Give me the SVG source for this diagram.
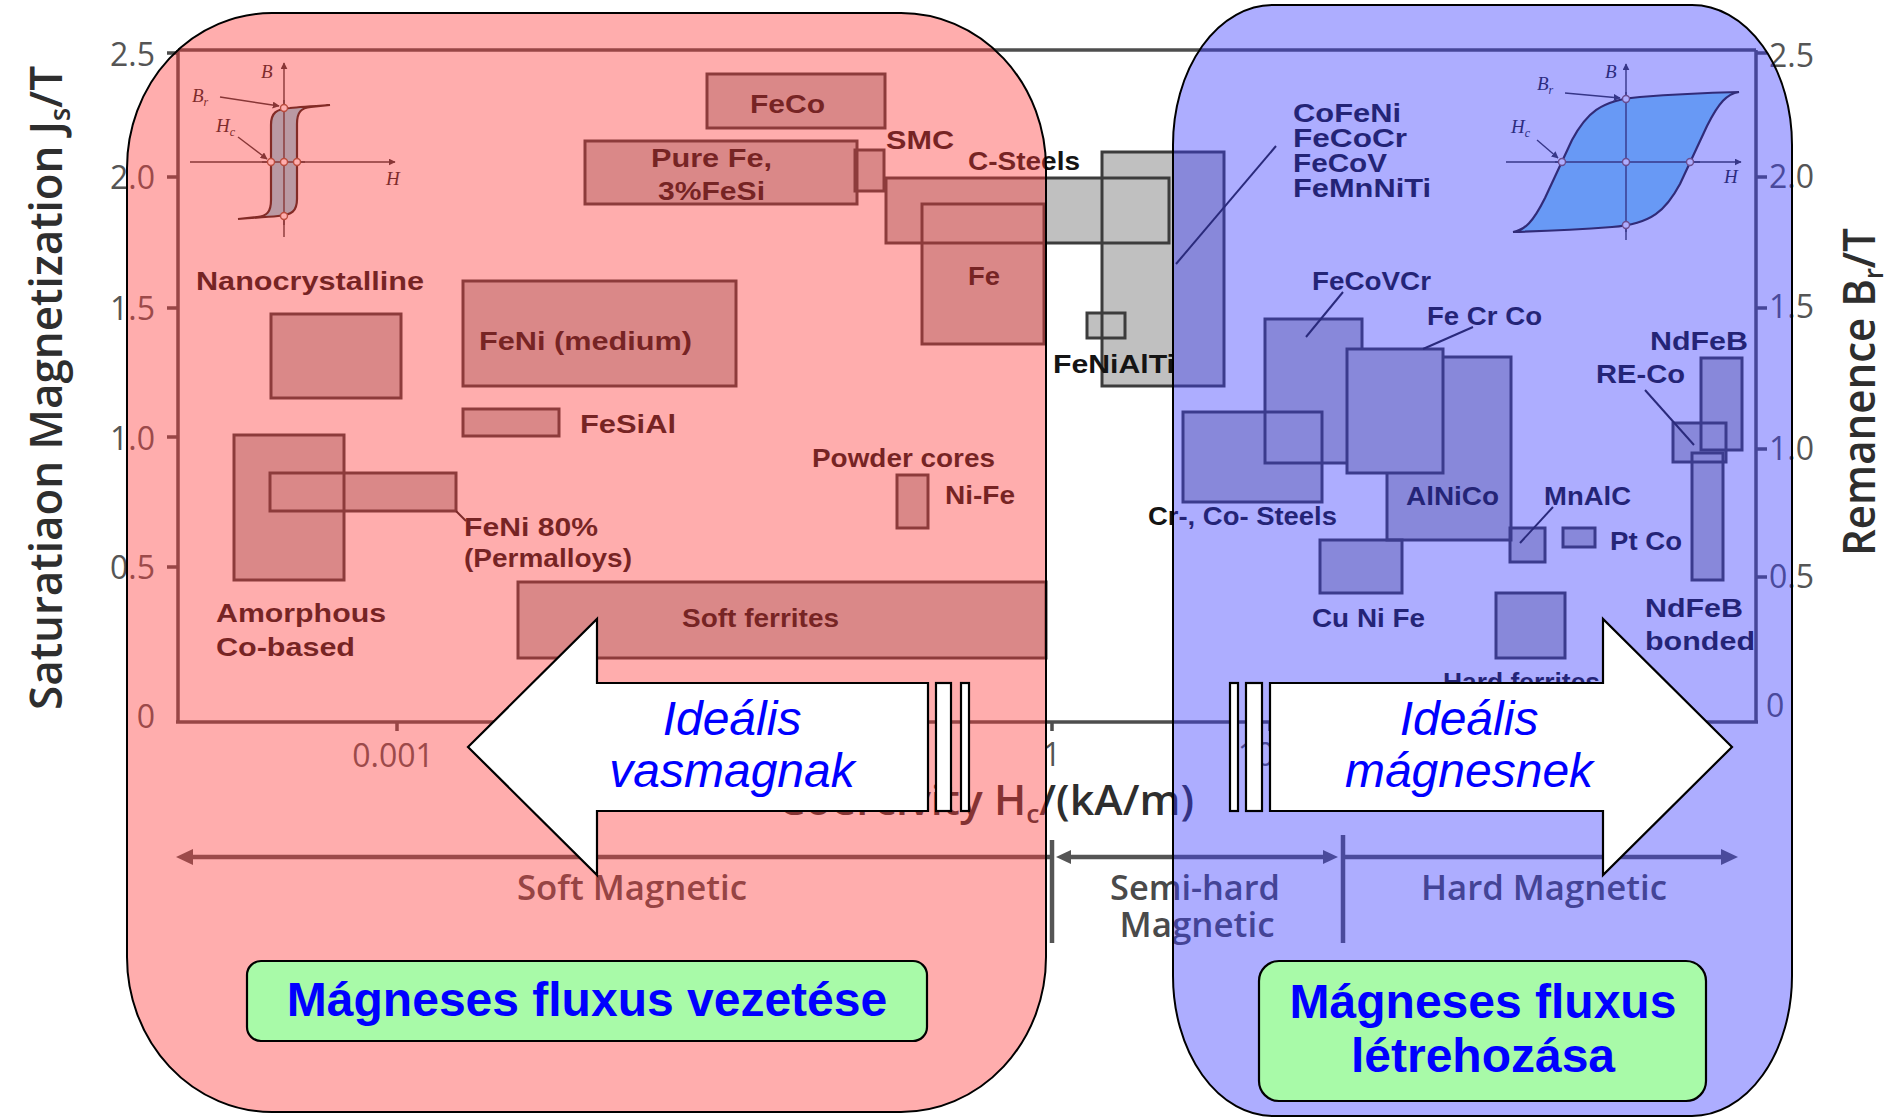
<svg xmlns="http://www.w3.org/2000/svg" width="1886" height="1117" viewBox="0 0 1886 1117">
<style>
.bg{fill:#ffffff}
.box{fill:#c0c0c0;stroke:none}
.edge{fill:none;stroke:#3c3c3c;stroke-width:3}
.boxo{fill:#c0c0c0;stroke:#3c3c3c;stroke-width:3}
.lbl{font-family:"Liberation Sans",Arial,sans-serif;font-weight:bold;font-size:25px;fill:#141414}
.tick{font-family:"Open Sans","Liberation Sans",sans-serif;font-size:32px;fill:#555555}
.axis{stroke:#4e4e4e;stroke-width:3.5;fill:none}
.ttl{font-family:"Open Sans","Liberation Sans",sans-serif;font-weight:600;fill:#2e2e2e}
.rng{font-family:"Open Sans","Liberation Sans",sans-serif;font-weight:600;font-size:35px;fill:#4a4a4a}
.rline{stroke:#555555;stroke-width:4.5;fill:none}
.rhead{fill:#555555}
.leader{stroke:#1e1e1e;stroke-width:2;fill:none}
.ins{font-family:"Liberation Serif","Times New Roman",serif;font-style:italic;font-size:19px;fill:#222222}
.iax{stroke:#333333;stroke-width:1.4;fill:none}
.loop{fill:#88ddee;stroke:#2a2018;stroke-width:2.2}
.pt{fill:#ffffff;stroke:#8a5a40;stroke-width:1.4}
.ov{stroke:#000000;stroke-width:2}
.arrow{fill:#ffffff;stroke:#000000;stroke-width:2.2}
.atxt{font-family:"Liberation Sans",Arial,sans-serif;font-style:italic;font-size:48px;fill:#0000ff;text-anchor:middle}
.gbox{fill:#a8faa8;stroke:#000000;stroke-width:2.2}
.gtxt{font-family:"Liberation Sans",Arial,sans-serif;font-weight:bold;font-size:48px;fill:#0000ff;text-anchor:middle}
</style>
<defs>
<marker id="ah" viewBox="0 0 10 10" refX="9" refY="5" markerWidth="7" markerHeight="7" orient="auto-start-reverse" markerUnits="userSpaceOnUse">
<path d="M0,0 L10,5 L0,10 z" fill="#333333"/>
</marker>
</defs>
<rect class="bg" x="0" y="0" width="1886" height="1117"/>

<g id="chart">
  <g id="axes">
    <line class="axis" x1="178" y1="50" x2="1756" y2="50"/>
    <line class="axis" x1="178" y1="50" x2="178" y2="722"/>
    <line class="axis" x1="1756" y1="50" x2="1756" y2="722"/>
    <line class="axis" x1="176" y1="722" x2="1758" y2="722"/>
    <path class="axis" d="M167,53 H178 M167,177 H178 M167,308 H178 M167,437 H178 M167,567 H178"/>
    <path class="axis" d="M1756,53 H1767 M1756,177 H1767 M1756,308 H1767 M1756,449 H1767 M1756,577 H1767"/>
    <path class="axis" d="M397,722 V731 M615,722 V731 M832,722 V731 M1052,722 V731 M1270,722 V731 M1488,722 V731 M1705,722 V731"/>
    <text class="tick" x="155" y="66" text-anchor="end">2.5</text>
    <text class="tick" x="155" y="189" text-anchor="end">2.0</text>
    <text class="tick" x="155" y="320" text-anchor="end">1.5</text>
    <text class="tick" x="155" y="450" text-anchor="end">1.0</text>
    <text class="tick" x="155" y="579" text-anchor="end">0.5</text>
    <text class="tick" x="155" y="728" text-anchor="end">0</text>
    <text class="tick" x="1769" y="67">2.5</text>
    <text class="tick" x="1769" y="188">2.0</text>
    <text class="tick" x="1769" y="318">1.5</text>
    <text class="tick" x="1769" y="460">1.0</text>
    <text class="tick" x="1769" y="588">0.5</text>
    <text class="tick" x="1766" y="717">0</text>
    <text class="tick" x="393" y="767" text-anchor="middle">0.001</text>
    <text class="tick" x="1052" y="766" text-anchor="middle">1</text>
    <text class="tick" x="1256" y="766" text-anchor="middle">10</text>
    <text class="ttl" transform="translate(62,388) rotate(-90)" text-anchor="middle" font-size="46" textLength="644" lengthAdjust="spacingAndGlyphs">Saturatiaon Magnetization J<tspan font-size="28" dy="8">s</tspan><tspan dy="-8">/T</tspan></text>
    <text class="ttl" transform="translate(1875,392) rotate(-90)" text-anchor="middle" font-size="45" textLength="328" lengthAdjust="spacingAndGlyphs">Remanence B<tspan font-size="27" dy="8">r</tspan><tspan dy="-8">/T</tspan></text>
    <text class="ttl" x="778" y="815" font-size="42" textLength="416" lengthAdjust="spacingAndGlyphs">Coercivity H<tspan font-size="26" dy="8">c</tspan><tspan dy="-8">/(kA/m)</tspan></text>
  </g>

  <g id="ranges">
    <line class="rline" x1="188" y1="857" x2="1050" y2="857"/>
    <line class="rline" x1="1066" y1="857" x2="1326" y2="857"/>
    <line class="rline" x1="1345" y1="857" x2="1724" y2="857"/>
    <polygon class="rhead" points="176,857 193,849 193,865"/>
    <polygon class="rhead" points="1056,857 1071,850 1071,864"/>
    <polygon class="rhead" points="1338,857 1323,850 1323,864"/>
    <polygon class="rhead" points="1738,857 1721,849 1721,865"/>
    <line class="rline" x1="1052" y1="840" x2="1052" y2="943"/>
    <line class="rline" x1="1343" y1="835" x2="1343" y2="943"/>
    <text class="rng" x="632" y="900" text-anchor="middle" textLength="230" lengthAdjust="spacingAndGlyphs">Soft Magnetic</text>
    <text class="rng" x="1195" y="900" text-anchor="middle" textLength="170" lengthAdjust="spacingAndGlyphs">Semi-hard</text>
    <text class="rng" x="1197" y="937" text-anchor="middle" textLength="155" lengthAdjust="spacingAndGlyphs">Magnetic</text>
    <text class="rng" x="1544" y="900" text-anchor="middle" textLength="246" lengthAdjust="spacingAndGlyphs">Hard Magnetic</text>
  </g>

  <g id="box-fills">
    <rect class="box" x="707" y="74" width="178" height="54"/>
    <rect class="box" x="585" y="141" width="272" height="63"/>
    <rect class="box" x="855" y="150" width="29" height="41"/>
    <rect class="box" x="886" y="178" width="283" height="65"/>
    <rect class="box" x="922" y="204" width="122" height="140"/>
    <rect class="box" x="1102" y="152" width="122" height="234"/>
    <rect class="box" x="1087" y="313" width="38" height="25"/>
    <rect class="box" x="271" y="314" width="130" height="84"/>
    <rect class="box" x="463" y="281" width="273" height="105"/>
    <rect class="box" x="463" y="409" width="96" height="27"/>
    <rect class="box" x="234" y="435" width="110" height="145"/>
    <rect class="box" x="270" y="473" width="186" height="38"/>
    <rect class="box" x="518" y="582" width="528" height="76"/>
    <rect class="box" x="897" y="475" width="31" height="53"/>
    <rect class="box" x="1265" y="319" width="97" height="144"/>
    <rect class="box" x="1387" y="357" width="124" height="183"/>
    <rect class="box" x="1183" y="412" width="139" height="90"/>
    <rect class="box" x="1320" y="540" width="82" height="53"/>
    <rect class="box" x="1510" y="528" width="35" height="34"/>
    <rect class="box" x="1563" y="528" width="32" height="19"/>
    <rect class="box" x="1496" y="593" width="69" height="65"/>
    <rect class="box" x="1701" y="358" width="41" height="92"/>
    <rect class="box" x="1673" y="423" width="53" height="39"/>
    <rect class="box" x="1692" y="453" width="31" height="127"/>
  </g>
  <g id="box-edges">
    <rect class="edge" x="707" y="74" width="178" height="54"/>
    <rect class="edge" x="585" y="141" width="272" height="63"/>
    <rect class="edge" x="855" y="150" width="29" height="41"/>
    <rect class="edge" x="886" y="178" width="283" height="65"/>
    <rect class="edge" x="922" y="204" width="122" height="140"/>
    <rect class="edge" x="1102" y="152" width="122" height="234"/>
    <rect class="edge" x="1087" y="313" width="38" height="25"/>
    <rect class="edge" x="271" y="314" width="130" height="84"/>
    <rect class="edge" x="463" y="281" width="273" height="105"/>
    <rect class="edge" x="463" y="409" width="96" height="27"/>
    <rect class="edge" x="234" y="435" width="110" height="145"/>
    <rect class="edge" x="270" y="473" width="186" height="38"/>
    <rect class="edge" x="518" y="582" width="528" height="76"/>
    <rect class="edge" x="897" y="475" width="31" height="53"/>
    <rect class="edge" x="1265" y="319" width="97" height="144"/>
    <rect class="edge" x="1387" y="357" width="124" height="183"/>
    <rect class="edge" x="1183" y="412" width="139" height="90"/>
    <rect class="edge" x="1320" y="540" width="82" height="53"/>
    <rect class="edge" x="1510" y="528" width="35" height="34"/>
    <rect class="edge" x="1563" y="528" width="32" height="19"/>
    <rect class="edge" x="1496" y="593" width="69" height="65"/>
    <rect class="edge" x="1701" y="358" width="41" height="92"/>
    <rect class="edge" x="1673" y="423" width="53" height="39"/>
    <rect class="edge" x="1692" y="453" width="31" height="127"/>
    <rect class="boxo" x="1347" y="349" width="96" height="124"/>
  </g>

  <g id="labels">
    <text class="lbl" x="750" y="113" textLength="75" lengthAdjust="spacingAndGlyphs">FeCo</text>
    <text class="lbl" x="651" y="167" textLength="121" lengthAdjust="spacingAndGlyphs">Pure Fe,</text>
    <text class="lbl" x="658" y="200" textLength="107" lengthAdjust="spacingAndGlyphs">3%FeSi</text>
    <text class="lbl" x="886" y="149" textLength="68" lengthAdjust="spacingAndGlyphs">SMC</text>
    <text class="lbl" x="968" y="170" textLength="112" lengthAdjust="spacingAndGlyphs">C-Steels</text>
    <text class="lbl" x="968" y="285" textLength="32" lengthAdjust="spacingAndGlyphs">Fe</text>
    <text class="lbl" x="196" y="290" textLength="228" lengthAdjust="spacingAndGlyphs">Nanocrystalline</text>
    <text class="lbl" x="479" y="350" textLength="213" lengthAdjust="spacingAndGlyphs">FeNi (medium)</text>
    <text class="lbl" x="580" y="433" textLength="96" lengthAdjust="spacingAndGlyphs">FeSiAl</text>
    <text class="lbl" x="216" y="622" textLength="170" lengthAdjust="spacingAndGlyphs">Amorphous</text>
    <text class="lbl" x="216" y="656" textLength="139" lengthAdjust="spacingAndGlyphs">Co-based</text>
    <text class="lbl" x="464" y="536" textLength="134" lengthAdjust="spacingAndGlyphs">FeNi 80%</text>
    <text class="lbl" x="464" y="567" textLength="168" lengthAdjust="spacingAndGlyphs">(Permalloys)</text>
    <text class="lbl" x="682" y="627" textLength="157" lengthAdjust="spacingAndGlyphs">Soft ferrites</text>
    <text class="lbl" x="812" y="467" textLength="183" lengthAdjust="spacingAndGlyphs">Powder cores</text>
    <text class="lbl" x="945" y="504" textLength="70" lengthAdjust="spacingAndGlyphs">Ni-Fe</text>
    <text class="lbl" x="1053" y="373" textLength="122" lengthAdjust="spacingAndGlyphs">FeNiAlTi</text>
    <text class="lbl" x="1293" y="122" textLength="108" lengthAdjust="spacingAndGlyphs">CoFeNi</text>
    <text class="lbl" x="1293" y="147" textLength="114" lengthAdjust="spacingAndGlyphs">FeCoCr</text>
    <text class="lbl" x="1293" y="172" textLength="94" lengthAdjust="spacingAndGlyphs">FeCoV</text>
    <text class="lbl" x="1293" y="197" textLength="138" lengthAdjust="spacingAndGlyphs">FeMnNiTi</text>
    <text class="lbl" x="1312" y="290" textLength="119" lengthAdjust="spacingAndGlyphs">FeCoVCr</text>
    <text class="lbl" x="1427" y="325" textLength="115" lengthAdjust="spacingAndGlyphs">Fe Cr Co</text>
    <text class="lbl" x="1650" y="350" textLength="98" lengthAdjust="spacingAndGlyphs">NdFeB</text>
    <text class="lbl" x="1596" y="383" textLength="89" lengthAdjust="spacingAndGlyphs">RE-Co</text>
    <text class="lbl" x="1148" y="525" textLength="189" lengthAdjust="spacingAndGlyphs">Cr-, Co- Steels</text>
    <text class="lbl" x="1406" y="505" textLength="93" lengthAdjust="spacingAndGlyphs">AlNiCo</text>
    <text class="lbl" x="1544" y="505" textLength="87" lengthAdjust="spacingAndGlyphs">MnAlC</text>
    <text class="lbl" x="1610" y="550" textLength="72" lengthAdjust="spacingAndGlyphs">Pt Co</text>
    <text class="lbl" x="1312" y="627" textLength="113" lengthAdjust="spacingAndGlyphs">Cu Ni Fe</text>
    <text class="lbl" x="1645" y="617" textLength="98" lengthAdjust="spacingAndGlyphs">NdFeB</text>
    <text class="lbl" x="1645" y="650" textLength="110" lengthAdjust="spacingAndGlyphs">bonded</text>
    <text class="lbl" x="1443" y="691" textLength="157" lengthAdjust="spacingAndGlyphs">Hard ferrites</text>
  </g>

  <g id="inset-soft">
    <line class="iax" x1="190" y1="162" x2="395" y2="162" marker-end="url(#ah)"/>
    <line class="iax" x1="284" y1="237" x2="284" y2="63" marker-end="url(#ah)"/>
    <path class="loop" d="M330,105 C315,106 300,107 290,108 C276,109 271,113 271,125 L271,200 C271,212 267,216 257,217 L238,219 C253,218 268,217 278,216 C292,215 297,211 297,199 L297,124 C297,112 301,108 311,107 Z"/>
    <line class="iax" x1="284" y1="100" x2="284" y2="225"/>
    <line class="iax" x1="262" y1="162" x2="305" y2="162"/>
    <circle class="pt" cx="284" cy="108" r="3.5"/>
    <circle class="pt" cx="271" cy="162" r="3.5"/>
    <circle class="pt" cx="284" cy="162" r="3.5"/>
    <circle class="pt" cx="297" cy="162" r="3.5"/>
    <circle class="pt" cx="284" cy="216" r="3.5"/>
    <line class="iax" x1="220" y1="97" x2="279" y2="106" marker-end="url(#ah)"/>
    <line class="iax" x1="238" y1="137" x2="267" y2="159" marker-end="url(#ah)"/>
    <text class="ins" x="261" y="78">B</text>
    <text class="ins" x="192" y="102">B<tspan font-size="12" dy="4">r</tspan></text>
    <text class="ins" x="216" y="132">H<tspan font-size="12" dy="4">c</tspan></text>
    <text class="ins" x="386" y="185">H</text>
  </g>

  <g id="inset-hard">
    <line class="iax" x1="1506" y1="162" x2="1741" y2="162" marker-end="url(#ah)"/>
    <line class="iax" x1="1626" y1="240" x2="1626" y2="64" marker-end="url(#ah)"/>
    <path class="loop" d="M1739,92 C1700,93 1665,95 1640,97 C1600,100 1586,114 1572,140 L1545,198 C1533,222 1525,230 1513,232 C1552,231 1587,229 1612,227 C1652,224 1666,210 1680,184 L1707,126 C1719,102 1727,94 1739,92 Z"/>
    <line class="iax" x1="1626" y1="92" x2="1626" y2="232"/>
    <line class="iax" x1="1555" y1="162" x2="1700" y2="162"/>
    <circle class="pt" cx="1626" cy="99" r="3.5"/>
    <circle class="pt" cx="1562" cy="162" r="3.5"/>
    <circle class="pt" cx="1626" cy="162" r="3.5"/>
    <circle class="pt" cx="1690" cy="162" r="3.5"/>
    <circle class="pt" cx="1626" cy="225" r="3.5"/>
    <line class="iax" x1="1565" y1="93" x2="1620" y2="98" marker-end="url(#ah)"/>
    <line class="iax" x1="1537" y1="140" x2="1558" y2="158" marker-end="url(#ah)"/>
    <text class="ins" x="1605" y="78">B</text>
    <text class="ins" x="1537" y="90">B<tspan font-size="12" dy="4">r</tspan></text>
    <text class="ins" x="1511" y="133">H<tspan font-size="12" dy="4">c</tspan></text>
    <text class="ins" x="1724" y="183">H</text>
  </g>

  <g id="connectors">
    <line class="leader" x1="1276" y1="146" x2="1176" y2="264"/>
    <line class="leader" x1="1343" y1="292" x2="1306" y2="337"/>
    <line class="leader" x1="1473" y1="327" x2="1423" y2="349"/>
    <line class="leader" x1="1645" y1="390" x2="1694" y2="445"/>
    <line class="leader" x1="1553" y1="507" x2="1520" y2="543"/>
    <line class="leader" x1="456" y1="511" x2="466" y2="521"/>
  </g>
</g>

<g id="soft-region">
  <rect class="ov" x="127" y="13" width="919" height="1099" rx="145" ry="155" fill="rgb(255,60,60)" fill-opacity="0.42"/>
</g>
<g id="hard-region">
  <rect class="ov" x="1173" y="5" width="619" height="1111" rx="100" ry="140" fill="rgb(60,60,255)" fill-opacity="0.42"/>
</g>

<g id="arrow-left">
  <polygon class="arrow" points="468,747 597,619 597,683 928,683 928,811 597,811 597,875"/>
  <rect class="arrow" x="936" y="683" width="15" height="128"/>
  <rect class="arrow" x="961" y="683" width="8" height="128"/>
  <text class="atxt" x="732" y="735">Ideális</text>
  <text class="atxt" x="732" y="787">vasmagnak</text>
</g>
<g id="arrow-right">
  <polygon class="arrow" points="1270,683 1603,683 1603,619 1732,747 1603,875 1603,811 1270,811"/>
  <rect class="arrow" x="1246" y="683" width="16" height="128"/>
  <rect class="arrow" x="1230" y="683" width="8" height="128"/>
  <text class="atxt" x="1469" y="735">Ideális</text>
  <text class="atxt" x="1469" y="787">mágnesnek</text>
</g>

<g id="label-soft">
  <rect class="gbox" x="247" y="961" width="680" height="80" rx="14"/>
  <text class="gtxt" x="587" y="1016">Mágneses fluxus vezetése</text>
</g>
<g id="label-hard">
  <rect class="gbox" x="1259" y="961" width="447" height="140" rx="20"/>
  <text class="gtxt" x="1483" y="1018">Mágneses fluxus</text>
  <text class="gtxt" x="1483" y="1072">létrehozása</text>
</g>
</svg>
